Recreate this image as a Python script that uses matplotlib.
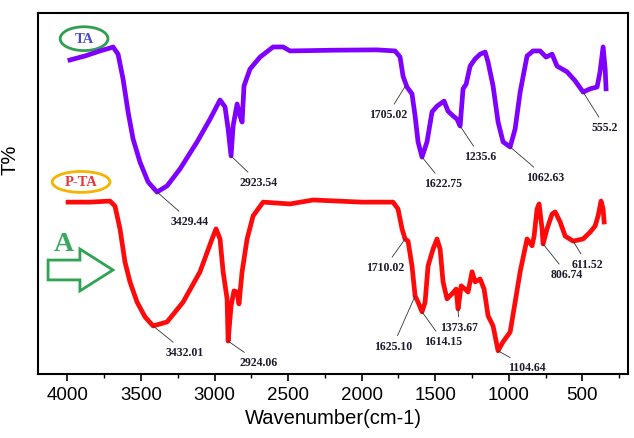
"""FTIR spectra of TA and P-TA with peak annotations."""

import matplotlib
import matplotlib.pyplot as plt
from matplotlib.patches import Ellipse, FancyArrow

matplotlib.use("Agg")

# ---- data ----
ta_wn = [3983, 3881, 3779, 3711, 3690, 3656, 3622, 3588, 3554, 3507, 3452, 3391,
         3323, 3235, 3119, 3031, 2963, 2929, 2908, 2888, 2874, 2847, 2827, 2813,
         2800, 2759, 2691, 2602, 2534, 2487, 2200, 1900, 1773, 1739, 1719, 1692,
         1658, 1637, 1617, 1590, 1556, 1522, 1488, 1440, 1413, 1379, 1352, 1331,
         1311, 1290, 1263, 1229, 1195, 1161, 1141, 1107, 1073, 1039, 991, 957, 923,
         876, 835, 787, 747, 706, 672, 604, 549, 495, 447, 400, 380, 359, 345, 339]
ta_t = [87.0, 88.1, 89.5, 90.3, 90.6, 88.6, 81.7, 72.6, 65.1, 58.7, 53.2, 50.4,
        52.1, 56.8, 64.3, 70.6, 75.9, 74.0, 67.9, 60.4, 68.7, 74.8, 71.5, 69.8,
        79.8, 84.5, 87.8, 90.6, 90.6, 89.5, 89.7, 89.8, 89.5, 87.8, 82.5, 79.5,
        77.6, 71.5, 64.3, 60.1, 64.3, 72.6, 74.2, 75.6, 72.8, 71.5, 70.6, 68.7,
        79.0, 80.3, 85.3, 87.3, 88.6, 89.2, 86.4, 79.8, 69.8, 64.3, 62.9, 67.9,
        78.1, 88.1, 89.5, 89.5, 87.8, 88.6, 85.3, 83.7, 81.2, 78.1, 79.0, 79.5,
        83.7, 90.6, 84.5, 79.0]

pta_wn = [3996, 3846, 3711, 3677, 3643, 3609, 3575, 3527, 3473, 3418, 3323, 3214,
          3099, 3017, 2990, 2963, 2942, 2915, 2908, 2888, 2868, 2847, 2834, 2813,
          2779, 2738, 2670, 2487, 2330, 2000, 1787, 1753, 1726, 1705, 1685, 1658,
          1637, 1617, 1590, 1569, 1549, 1515, 1488, 1467, 1447, 1420, 1386, 1358,
          1345, 1324, 1297, 1277, 1250, 1229, 1195, 1168, 1141, 1107, 1073, 1039,
          991, 957, 923, 876, 842, 828, 808, 794, 774, 767, 740, 706, 685, 651, 617,
          563, 495, 447, 413, 393, 373, 359, 352]
pta_t = [47.6, 47.6, 47.9, 46.5, 40.2, 31.0, 25.5, 19.9, 15.8, 13.3, 14.4, 19.9,
         28.3, 37.4, 40.2, 37.4, 28.3, 20.8, 9.1, 18.8, 23.0, 22.7, 19.4, 28.3,
         37.4, 43.8, 47.6, 47.1, 48.2, 47.6, 47.6, 45.7, 40.2, 37.4, 36.8, 29.9,
         21.6, 19.9, 17.2, 19.9, 29.9, 34.6, 37.4, 34.6, 25.5, 20.8, 22.2, 23.5,
         18.0, 24.4, 23.5, 22.7, 28.3, 25.5, 26.3, 23.5, 16.1, 13.3, 6.4, 8.9,
         11.6, 19.9, 28.3, 37.4, 35.5, 38.2, 45.7, 47.1, 40.2, 36.0, 40.2, 44.3,
         44.9, 42.1, 38.2, 36.8, 37.4, 39.3, 41.0, 43.8, 47.9, 45.7, 42.1]

# peak labels: (text, peak wavenumber, peak T, text wavenumber, text T)
ta_peaks = [("3429.44", 3391, 50.4, 3167, 42.4),
            ("2923.54", 2888, 60.4, 2704, 53.2),
            ("1705.02", 1700, 80.0, 1821, 72.0),
            ("1622.75", 1590, 60.1, 1447, 52.9),
            ("1235.6", 1331, 68.7, 1195, 60.4),
            ("1062.63", 991, 62.9, 753, 54.6),
            ("555.2", 495, 78.1, 345, 68.4)]
pta_peaks = [("3432.01", 3418, 13.3, 3201, 6.1),
             ("2924.06", 2908, 9.1, 2704, 3.3),
             ("1710.02", 1705, 37.4, 1841, 29.6),
             ("1625.10", 1637, 21.6, 1787, 7.8),
             ("1614.15", 1590, 17.2, 1447, 9.1),
             ("1373.67", 1345, 18.0, 1338, 13.0),
             ("1104.64", 1073, 6.4, 876, 1.9),
             ("806.74", 767, 36.0, 604, 27.7),
             ("611.52", 563, 36.8, 468, 30.5)]

xticks = [4000, 3500, 3000, 2500, 2000, 1500, 1000, 500]

TA_COLOR = "#8000ff"
PTA_COLOR = "#ff0a0a"
SERIF = ["Liberation Serif", "DejaVu Serif"]
SANS = ["Liberation Sans", "DejaVu Sans"]

fig = plt.figure(figsize=(6.34, 4.39), dpi=100)
ax = fig.add_axes([0.060, 0.146, 0.9305, 0.822])

ax.plot(ta_wn, ta_t, color=TA_COLOR, linewidth=3.4, solid_joinstyle="round")
ax.plot(pta_wn, pta_t, color=PTA_COLOR, linewidth=3.4, solid_joinstyle="round")

for label, px, py, tx, ty in ta_peaks + pta_peaks:
    ax.annotate(label, xy=(px, py), xytext=(tx, ty), ha="center", va="center",
                fontsize=8.5, fontweight="bold", family=SERIF, color="#1b1b2b",
                arrowprops=dict(arrowstyle="-", color="#333333", lw=0.6,
                                shrinkA=1, shrinkB=0))

ax.set_xlim(4200, 190)
ax.set_ylim(0, 100)
ax.set_xticks(xticks)
ax.set_xticks([3750, 3250, 2750, 2250, 1750, 1250, 750, 250], minor=True)
ax.set_yticks([])
ax.tick_params(axis="x", which="major", direction="out", length=5, width=1.2,
               labelsize=13.5)
ax.tick_params(axis="x", which="minor", direction="out", length=3, width=1)
for lab in ax.get_xticklabels():
    lab.set_family(SANS)
for sp in ax.spines.values():
    sp.set_linewidth(1.5)

ax.set_xlabel("Wavenumber(cm-1)", fontsize=14.5, family=SANS)
ax.set_ylabel("T%", fontsize=14.5, family=SANS)
ax.yaxis.set_label_coords(-0.032, 0.596)

# sample tags
ax.add_patch(Ellipse((0.078, 0.929), 0.081, 0.066, transform=ax.transAxes,
                     fill=False, edgecolor="#2e9e4f", linewidth=2))
ax.text(0.078, 0.929, "TA", transform=ax.transAxes, ha="center", va="center",
        fontsize=10.5, fontweight="bold", family=SERIF, color="#4b4bc8")
ax.add_patch(Ellipse((0.073, 0.532), 0.098, 0.058, transform=ax.transAxes,
                     fill=False, edgecolor="#f5b400", linewidth=2))
ax.text(0.073, 0.532, "P-TA", transform=ax.transAxes, ha="center", va="center",
        fontsize=10.5, fontweight="bold", family=SERIF, color="#e8333a")

# green "A" arrow
ax.add_patch(FancyArrow(0.017, 0.288, 0.110, 0, width=0.055, head_width=0.116,
                        head_length=0.056, length_includes_head=True,
                        transform=ax.transAxes, fill=False,
                        edgecolor="#2ea352", linewidth=2))
ax.text(0.043, 0.36, "A", transform=ax.transAxes, ha="center", va="center",
        fontsize=20, fontweight="bold", family=SERIF, color="#3aa860")

fig.savefig("out.png", dpi=100)
plt.close(fig)
